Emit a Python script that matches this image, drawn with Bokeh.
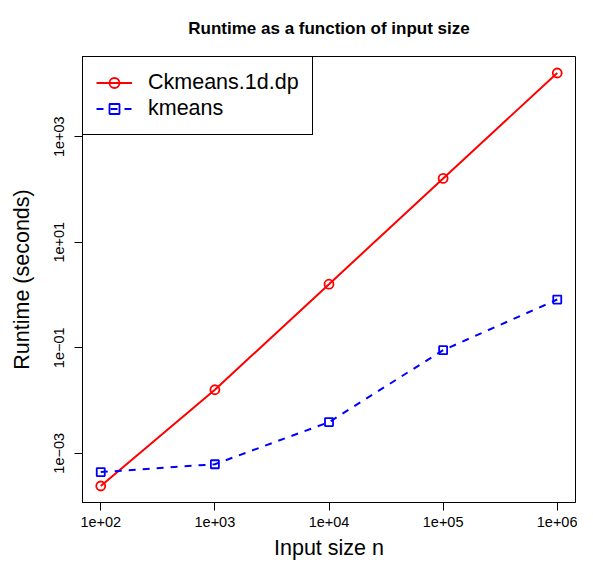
from bokeh.plotting import figure
from bokeh.models import Range1d, FixedTicker, CustomJSTickFormatter, Legend, LegendItem
from bokeh.embed import file_html
from bokeh.resources import INLINE
import math

# ---- data ----
input_size = [1e2, 1e3, 1e4, 1e5, 1e6]
ckmeans_runtime = [2.4e-4, 1.6e-2, 1.6, 162.0, 16100.0]
kmeans_runtime = [4.4e-4, 6.2e-4, 3.9e-3, 0.09, 0.82]
series_names = ["Ckmeans.1d.dp", "kmeans"]
x_ticks = [1e2, 1e3, 1e4, 1e5, 1e6]
y_ticks = [1e-3, 1e-1, 1e1, 1e3]
title_text = "Runtime as a function of input size"
x_label = "Input size n"
y_label = "Runtime (seconds)"


def padded_log_range(values):
    lo = math.log10(min(values))
    hi = math.log10(max(values))
    pad = 0.04 * (hi - lo)
    return Range1d(10 ** (lo - pad), 10 ** (hi + pad))


FONT = "Liberation Sans"

p = figure(width=577, height=563,
           x_axis_type="log", y_axis_type="log",
           x_range=padded_log_range(input_size),
           y_range=padded_log_range(ckmeans_runtime + kmeans_runtime),
           output_backend="svg", toolbar_location=None,
           min_border_left=82, min_border_right=2,
           min_border_top=56, min_border_bottom=61,
           title=title_text)

p.background_fill_color = "white"
p.border_fill_color = "white"
p.outline_line_color = "black"
p.outline_line_width = 1
p.outline_line_alpha = 1
p.xgrid.visible = False
p.ygrid.visible = False

p.title.text_font = FONT
p.title.text_font_size = "17px"
p.title.text_font_style = "bold"
p.title.align = "center"
p.title.vertical_align = "top"
p.title.text_color = "black"
p.title.standoff = 34
p.title.offset = 9

fmt_code = """
const e = Math.round(Math.log10(tick));
const s = e < 0 ? "\\u2212" : "+";
return "1e" + s + String(Math.abs(e)).padStart(2, "0");
"""

for ax, ticks in ((p.xaxis[0], x_ticks), (p.yaxis[0], y_ticks)):
    ax.ticker = FixedTicker(ticks=ticks, minor_ticks=[])
    ax.formatter = CustomJSTickFormatter(code=fmt_code)
    ax.major_tick_out = 8
    ax.major_tick_in = 0
    ax.minor_tick_out = 0
    ax.minor_tick_in = 0
    ax.axis_line_color = "black"
    ax.major_tick_line_color = "black"
    ax.major_label_text_font = FONT
    ax.major_label_text_font_size = "14.5px"
    ax.major_label_text_color = "black"
    ax.axis_label_text_font = FONT
    ax.axis_label_text_font_size = "21.5px"
    ax.axis_label_text_font_style = "normal"
    ax.axis_label_text_color = "black"

p.xaxis.axis_label = x_label
p.xaxis.major_label_standoff = 6
p.xaxis.axis_label_standoff = 6
p.yaxis.axis_label = y_label
p.yaxis.major_label_orientation = "vertical"
p.yaxis.major_label_standoff = 10
p.yaxis.axis_label_standoff = 18

r1 = p.line(input_size, ckmeans_runtime, line_color="red", line_width=2)
r1m = p.scatter(input_size, ckmeans_runtime, marker="circle", size=9,
                fill_color=None, line_color="red", line_width=1.8)
r2 = p.line(input_size, kmeans_runtime, line_color="blue", line_width=2,
            line_dash="7 7")
r2m = p.scatter(input_size, kmeans_runtime, marker="square", size=8,
                fill_color=None, line_color="blue", line_width=1.8)

legend = Legend(items=[LegendItem(label=series_names[0], renderers=[r1, r1m]),
                       LegendItem(label=series_names[1], renderers=[r2, r2m])],
                location="top_left")
legend.margin = 0
legend.padding = 13
legend.spacing = 1
legend.glyph_width = 36
legend.glyph_height = 25
legend.label_standoff = 16
legend.label_text_font = FONT
legend.label_text_font_size = "21.5px"
legend.label_text_color = "black"
legend.border_line_color = "black"
legend.border_line_width = 1
legend.border_line_alpha = 1
legend.background_fill_color = "white"
legend.background_fill_alpha = 1
p.add_layout(legend)

open("out.html", "w").write(file_html(p, INLINE))
